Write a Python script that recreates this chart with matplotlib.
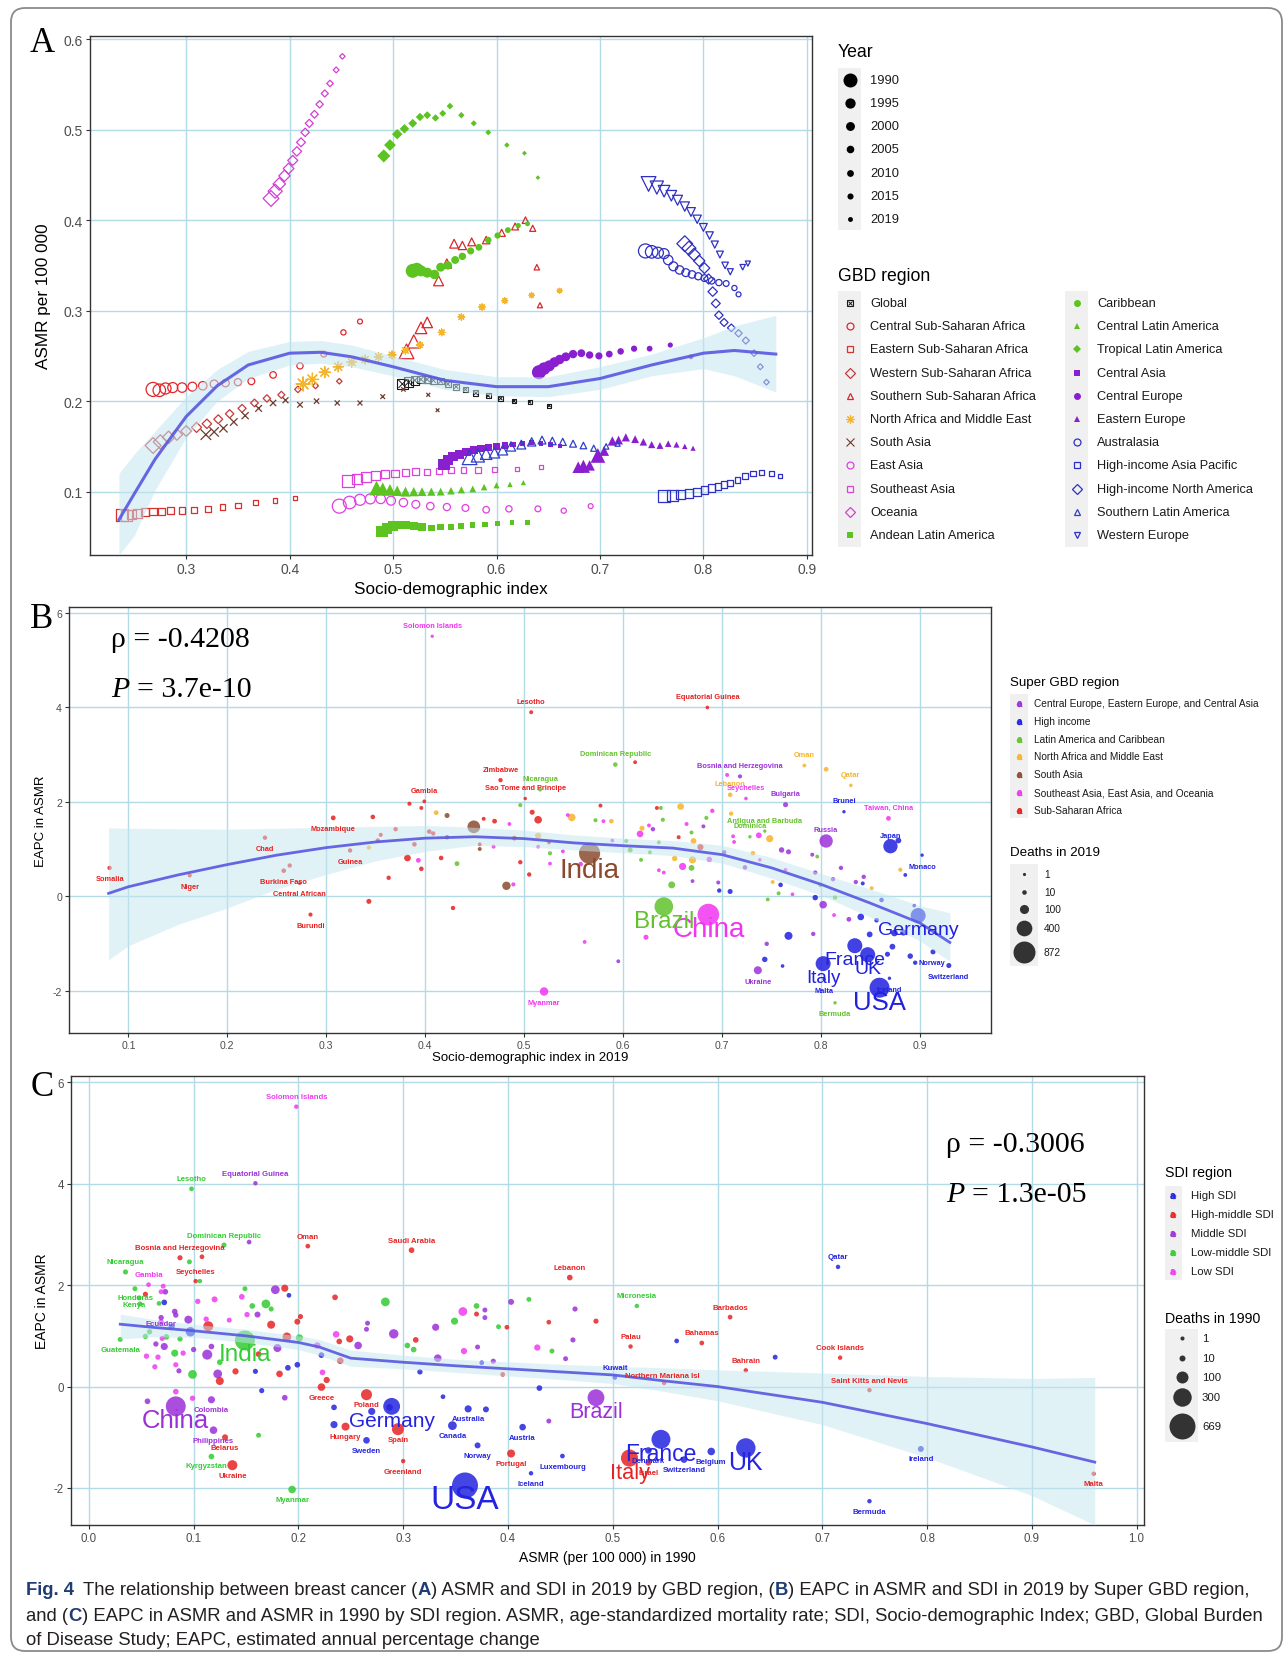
import numpy as np
import matplotlib
matplotlib.use("Agg")
import matplotlib.pyplot as plt
from matplotlib import font_manager as fm
from matplotlib.patches import FancyBboxPatch, Rectangle

W, H = 1287, 1658

installed = {f.name for f in fm.fontManager.ttflist}
SANS = "Liberation Sans" if "Liberation Sans" in installed else "DejaVu Sans"
NARROW = "Liberation Sans Narrow" if "Liberation Sans Narrow" in installed else SANS
SERIF = "Liberation Serif" if "Liberation Serif" in installed else "DejaVu Serif"
plt.rcParams["font.family"] = [SANS, "DejaVu Sans"]
plt.rcParams["axes.unicode_minus"] = False

# ---------------- A: ASMR vs SDI by GBD region, 1990-2019 ----------------
years_a = [1990, 1992, 1994, 1996, 1998, 2000, 2002, 2004, 2006, 2008, 2010, 2012, 2014, 2016, 2018, 2019]

sdi_global = [0.509, 0.515, 0.521, 0.527, 0.533, 0.539, 0.546, 0.553, 0.561, 0.570, 0.580, 0.592, 0.604, 0.617, 0.632, 0.651]
asmr_global = [0.219, 0.221, 0.223, 0.224, 0.224, 0.223, 0.222, 0.219, 0.216, 0.213, 0.209, 0.206, 0.203, 0.200, 0.199, 0.195]
sdi_c_ssa = [0.268, 0.274, 0.280, 0.287, 0.296, 0.306, 0.316, 0.327, 0.338, 0.350, 0.363, 0.384, 0.410, 0.433, 0.452, 0.468]
asmr_c_ssa = [0.213, 0.212, 0.214, 0.215, 0.215, 0.216, 0.217, 0.219, 0.220, 0.221, 0.222, 0.229, 0.239, 0.252, 0.276, 0.288]
sdi_e_ssa = [0.238, 0.242, 0.247, 0.253, 0.260, 0.268, 0.276, 0.285, 0.296, 0.308, 0.321, 0.335, 0.350, 0.367, 0.386, 0.405]
asmr_e_ssa = [0.074, 0.074, 0.075, 0.076, 0.077, 0.078, 0.078, 0.079, 0.079, 0.080, 0.081, 0.083, 0.085, 0.088, 0.090, 0.093]
sdi_w_ssa = [0.268, 0.275, 0.283, 0.291, 0.300, 0.310, 0.320, 0.331, 0.342, 0.354, 0.366, 0.378, 0.392, 0.408, 0.425, 0.448]
asmr_w_ssa = [0.151, 0.155, 0.160, 0.163, 0.167, 0.171, 0.175, 0.180, 0.186, 0.192, 0.198, 0.203, 0.207, 0.213, 0.217, 0.222]
sdi_s_ssa = [0.513, 0.520, 0.527, 0.533, 0.544, 0.552, 0.559, 0.567, 0.576, 0.590, 0.605, 0.618, 0.628, 0.635, 0.639, 0.642]
asmr_s_ssa = [0.255, 0.266, 0.281, 0.287, 0.333, 0.352, 0.374, 0.372, 0.376, 0.378, 0.386, 0.393, 0.400, 0.391, 0.348, 0.306]
sdi_name = [0.413, 0.422, 0.434, 0.447, 0.460, 0.473, 0.486, 0.499, 0.512, 0.526, 0.547, 0.566, 0.586, 0.608, 0.634, 0.661]
asmr_name = [0.219, 0.224, 0.232, 0.238, 0.243, 0.246, 0.249, 0.251, 0.256, 0.262, 0.276, 0.293, 0.304, 0.311, 0.317, 0.322]
sdi_s_asia = [0.319, 0.327, 0.336, 0.346, 0.357, 0.370, 0.384, 0.396, 0.410, 0.426, 0.446, 0.468, 0.490, 0.510, 0.534, 0.543]
asmr_s_asia = [0.163, 0.166, 0.170, 0.177, 0.184, 0.192, 0.198, 0.201, 0.196, 0.200, 0.198, 0.198, 0.205, 0.213, 0.207, 0.190]
sdi_e_asia = [0.448, 0.458, 0.468, 0.478, 0.488, 0.498, 0.510, 0.522, 0.536, 0.552, 0.570, 0.590, 0.612, 0.640, 0.665, 0.691]
asmr_e_asia = [0.084, 0.088, 0.091, 0.092, 0.092, 0.090, 0.088, 0.086, 0.084, 0.083, 0.082, 0.080, 0.081, 0.081, 0.079, 0.084]
sdi_se_asia = [0.456, 0.465, 0.474, 0.483, 0.492, 0.502, 0.512, 0.522, 0.533, 0.544, 0.556, 0.568, 0.582, 0.598, 0.620, 0.643]
asmr_se_asia = [0.112, 0.114, 0.116, 0.118, 0.119, 0.120, 0.121, 0.122, 0.122, 0.123, 0.124, 0.124, 0.124, 0.124, 0.125, 0.127]
sdi_oceania = [0.382, 0.386, 0.390, 0.395, 0.399, 0.403, 0.407, 0.411, 0.415, 0.419, 0.424, 0.429, 0.434, 0.439, 0.445, 0.451]
asmr_oceania = [0.424, 0.432, 0.440, 0.449, 0.457, 0.466, 0.476, 0.486, 0.497, 0.507, 0.517, 0.528, 0.540, 0.551, 0.566, 0.581]
sdi_andean = [0.489, 0.494, 0.500, 0.506, 0.512, 0.520, 0.528, 0.537, 0.546, 0.556, 0.566, 0.577, 0.589, 0.601, 0.615, 0.630]
asmr_andean = [0.056, 0.059, 0.062, 0.063, 0.063, 0.062, 0.061, 0.060, 0.061, 0.061, 0.062, 0.063, 0.064, 0.065, 0.066, 0.066]
sdi_caribbean = [0.519, 0.523, 0.527, 0.533, 0.540, 0.546, 0.553, 0.560, 0.567, 0.575, 0.583, 0.592, 0.601, 0.611, 0.621, 0.630]
asmr_caribbean = [0.344, 0.346, 0.344, 0.342, 0.340, 0.348, 0.350, 0.356, 0.360, 0.366, 0.370, 0.378, 0.383, 0.389, 0.394, 0.396]
sdi_c_latam = [0.484, 0.490, 0.497, 0.504, 0.512, 0.520, 0.528, 0.537, 0.546, 0.556, 0.566, 0.577, 0.588, 0.600, 0.613, 0.626]
asmr_c_latam = [0.104, 0.103, 0.102, 0.101, 0.100, 0.100, 0.100, 0.100, 0.100, 0.101, 0.102, 0.103, 0.105, 0.107, 0.108, 0.110]
sdi_t_latam = [0.491, 0.497, 0.504, 0.511, 0.519, 0.526, 0.533, 0.541, 0.548, 0.555, 0.566, 0.578, 0.592, 0.610, 0.627, 0.640]
asmr_t_latam = [0.471, 0.483, 0.495, 0.501, 0.507, 0.514, 0.516, 0.513, 0.518, 0.526, 0.516, 0.507, 0.497, 0.483, 0.474, 0.447]
sdi_c_asia = [0.549, 0.553, 0.558, 0.564, 0.571, 0.578, 0.585, 0.592, 0.600, 0.608, 0.616, 0.625, 0.634, 0.643, 0.652, 0.661]
asmr_c_asia = [0.130, 0.135, 0.139, 0.141, 0.144, 0.146, 0.148, 0.149, 0.150, 0.151, 0.152, 0.153, 0.154, 0.153, 0.152, 0.150]
sdi_c_europe = [0.641, 0.646, 0.651, 0.656, 0.661, 0.667, 0.674, 0.682, 0.690, 0.699, 0.709, 0.720, 0.733, 0.748, 0.768, 0.788]
asmr_c_europe = [0.232, 0.236, 0.239, 0.243, 0.246, 0.249, 0.252, 0.253, 0.251, 0.250, 0.252, 0.255, 0.258, 0.258, 0.262, 0.249]
sdi_e_europe = [0.698, 0.684, 0.679, 0.690, 0.704, 0.712, 0.718, 0.725, 0.734, 0.742, 0.750, 0.758, 0.766, 0.774, 0.782, 0.790]
asmr_e_europe = [0.140, 0.128, 0.127, 0.129, 0.145, 0.156, 0.157, 0.160, 0.158, 0.155, 0.152, 0.151, 0.153, 0.152, 0.150, 0.148]
sdi_australasia = [0.744, 0.750, 0.756, 0.762, 0.766, 0.771, 0.777, 0.783, 0.789, 0.795, 0.801, 0.808, 0.815, 0.822, 0.830, 0.834]
asmr_australasia = [0.366, 0.365, 0.364, 0.363, 0.356, 0.349, 0.345, 0.342, 0.340, 0.338, 0.336, 0.333, 0.331, 0.330, 0.325, 0.318]
sdi_hi_ap = [0.762, 0.770, 0.778, 0.786, 0.794, 0.801, 0.808, 0.814, 0.820, 0.826, 0.833, 0.840, 0.848, 0.856, 0.866, 0.874]
asmr_hi_ap = [0.095, 0.096, 0.097, 0.098, 0.100, 0.102, 0.104, 0.106, 0.108, 0.110, 0.113, 0.117, 0.120, 0.121, 0.120, 0.117]
sdi_hi_na = [0.782, 0.786, 0.791, 0.796, 0.801, 0.805, 0.809, 0.812, 0.815, 0.820, 0.827, 0.834, 0.841, 0.849, 0.855, 0.861]
asmr_hi_na = [0.374, 0.369, 0.362, 0.355, 0.347, 0.335, 0.321, 0.308, 0.295, 0.287, 0.281, 0.275, 0.267, 0.253, 0.238, 0.221]
sdi_s_latam = [0.574, 0.582, 0.590, 0.598, 0.606, 0.614, 0.624, 0.634, 0.644, 0.654, 0.664, 0.674, 0.684, 0.694, 0.706, 0.717]
asmr_s_latam = [0.138, 0.140, 0.142, 0.143, 0.146, 0.150, 0.152, 0.155, 0.157, 0.156, 0.155, 0.153, 0.151, 0.148, 0.150, 0.153]
sdi_w_europe = [0.747, 0.755, 0.762, 0.769, 0.775, 0.782, 0.788, 0.794, 0.800, 0.806, 0.811, 0.816, 0.821, 0.826, 0.838, 0.843]
asmr_w_europe = [0.440, 0.436, 0.432, 0.427, 0.422, 0.415, 0.409, 0.401, 0.392, 0.383, 0.373, 0.362, 0.350, 0.343, 0.348, 0.352]

gbd_regions = ["Global", "Central Sub-Saharan Africa", "Eastern Sub-Saharan Africa",
               "Western Sub-Saharan Africa", "Southern Sub-Saharan Africa",
               "North Africa and Middle East", "South Asia", "East Asia", "Southeast Asia",
               "Oceania", "Andean Latin America", "Caribbean", "Central Latin America",
               "Tropical Latin America", "Central Asia", "Central Europe", "Eastern Europe",
               "Australasia", "High-income Asia Pacific", "High-income North America",
               "Southern Latin America", "Western Europe"]
region_values = dict(zip(gbd_regions, [
    (sdi_global, asmr_global), (sdi_c_ssa, asmr_c_ssa), (sdi_e_ssa, asmr_e_ssa),
    (sdi_w_ssa, asmr_w_ssa), (sdi_s_ssa, asmr_s_ssa), (sdi_name, asmr_name),
    (sdi_s_asia, asmr_s_asia), (sdi_e_asia, asmr_e_asia), (sdi_se_asia, asmr_se_asia),
    (sdi_oceania, asmr_oceania), (sdi_andean, asmr_andean), (sdi_caribbean, asmr_caribbean),
    (sdi_c_latam, asmr_c_latam), (sdi_t_latam, asmr_t_latam), (sdi_c_asia, asmr_c_asia),
    (sdi_c_europe, asmr_c_europe), (sdi_e_europe, asmr_e_europe),
    (sdi_australasia, asmr_australasia), (sdi_hi_ap, asmr_hi_ap), (sdi_hi_na, asmr_hi_na),
    (sdi_s_latam, asmr_s_latam), (sdi_w_europe, asmr_w_europe)]))

smooth_a_x = [0.235, 0.25, 0.27, 0.30, 0.33, 0.36, 0.40, 0.43, 0.46, 0.50, 0.55, 0.60, 0.65, 0.70, 0.75, 0.80, 0.83, 0.87]
smooth_a_fit = [0.069, 0.098, 0.136, 0.183, 0.217, 0.240, 0.253, 0.254, 0.249, 0.238, 0.223, 0.216, 0.216, 0.225, 0.240, 0.253, 0.256, 0.252]
smooth_a_lo = [0.030, 0.052, 0.102, 0.160, 0.200, 0.225, 0.240, 0.242, 0.238, 0.228, 0.213, 0.206, 0.205, 0.213, 0.228, 0.236, 0.228, 0.210]
smooth_a_hi = [0.120, 0.142, 0.167, 0.205, 0.235, 0.255, 0.266, 0.267, 0.262, 0.250, 0.235, 0.227, 0.227, 0.238, 0.252, 0.270, 0.283, 0.295]

# ---------------- B: EAPC vs SDI 2019 (name, SDI, EAPC, deaths 2019) ----------------
b_ceeca = [
    ("Bosnia and Herzegovina", 0.718, 2.54, 6), ("Bulgaria", 0.764, 1.94, 15),
    ("Russia", 0.805, 1.17, 270), ("Ukraine", 0.736, -1.57, 70),
    ("", 0.595, -1.38, 4), ("", 0.630, 1.42, 8), ("", 0.670, 0.32, 4), ("", 0.681, 1.48, 5),
    ("", 0.696, 0.29, 5), ("", 0.702, 0.93, 8), ("", 0.723, 0.61, 10), ("", 0.745, -1.01, 8),
    ("", 0.760, 0.98, 20), ("", 0.767, 0.94, 15), ("", 0.791, 0.88, 5), ("", 0.794, 0.50, 8),
    ("", 0.802, -0.18, 60), ("", 0.792, -0.80, 8), ("", 0.812, 0.36, 8), ("", 0.820, 0.60, 8),
    ("", 0.828, -0.49, 12), ("", 0.835, 0.30, 8), ("", 0.843, 0.41, 8)]
b_high = [
    ("Brunei", 0.823, 1.79, 2), ("Japan", 0.870, 1.06, 320), ("Monaco", 0.902, 0.87, 2),
    ("Germany", 0.898, -0.41, 360), ("France", 0.834, -1.05, 360), ("UK", 0.847, -1.24, 360),
    ("Italy", 0.802, -1.43, 360), ("USA", 0.859, -1.94, 700), ("Malta", 0.803, -1.76, 2),
    ("Iceland", 0.869, -1.74, 2), ("Norway", 0.895, -1.41, 8), ("Switzerland", 0.929, -1.47, 15),
    ("", 0.697, 0.12, 8), ("", 0.708, 0.10, 15), ("", 0.743, -1.34, 20), ("", 0.759, 0.24, 10),
    ("", 0.761, -1.48, 3), ("", 0.767, -0.84, 70), ("", 0.794, -0.03, 20), ("", 0.840, -0.44, 40),
    ("", 0.842, 0.27, 5), ("", 0.849, -0.81, 25), ("", 0.856, -0.51, 10), ("", 0.861, -0.08, 10),
    ("", 0.867, -1.23, 15), ("", 0.872, -1.07, 25), ("", 0.874, -0.78, 40), ("", 0.883, -0.77, 30),
    ("", 0.878, 1.18, 25), ("", 0.885, 0.45, 4), ("", 0.890, -1.27, 20), ("", 0.894, -0.20, 3),
    ("", 0.913, -1.18, 15)]
b_latam = [
    ("Dominican Republic", 0.592, 2.79, 10), ("Nicaragua", 0.516, 2.26, 5),
    ("Antigua and Barbuda", 0.743, 1.38, 2), ("Dominica", 0.728, 1.26, 2),
    ("Brazil", 0.641, -0.22, 600), ("Bermuda", 0.814, -2.26, 2),
    ("", 0.496, 1.93, 6), ("", 0.432, 0.69, 12), ("", 0.526, 0.91, 6), ("", 0.572, 1.61, 6),
    ("", 0.603, 1.17, 5), ("", 0.607, 0.98, 15), ("", 0.618, 0.77, 5), ("", 0.627, 0.93, 5),
    ("", 0.636, 1.14, 5), ("", 0.638, 1.87, 5), ("", 0.640, 1.62, 6), ("", 0.649, 0.24, 45),
    ("", 0.669, 0.60, 25), ("", 0.669, 1.35, 5), ("", 0.684, 1.66, 6), ("", 0.746, -0.07, 4),
    ("", 0.757, 0.06, 5), ("", 0.796, 0.84, 4), ("", 0.799, 0.23, 3), ("", 0.814, -0.03, 8)]
b_name = [
    ("Oman", 0.783, 2.77, 4), ("Qatar", 0.830, 2.35, 3), ("Lebanon", 0.708, 2.15, 10),
    ("", 0.805, 2.69, 12), ("", 0.411, 1.77, 12), ("", 0.343, 1.03, 8), ("", 0.514, 1.28, 30),
    ("", 0.548, 1.67, 60), ("", 0.588, 1.59, 10), ("", 0.619, 1.44, 15), ("", 0.658, 1.90, 40),
    ("", 0.652, 0.80, 20), ("", 0.670, 0.77, 50), ("", 0.671, 1.17, 25), ("", 0.709, 1.75, 8),
    ("", 0.731, 0.91, 10), ("", 0.748, 1.22, 50), ("", 0.751, 0.30, 5), ("", 0.851, 0.17, 5),
    ("", 0.880, 0.56, 6)]
b_south_asia = [
    ("India", 0.566, 0.91, 800), ("", 0.449, 1.47, 240), ("", 0.422, 1.71, 15),
    ("", 0.422, 1.25, 10), ("", 0.482, 0.22, 80), ("", 0.455, 1.00, 5)]
b_seao = [
    ("Solomon Islands", 0.407, 5.51, 2), ("Myanmar", 0.520, -2.02, 80), ("China", 0.686, -0.39, 840),
    ("Seychelles", 0.724, 2.07, 3), ("Taiwan, China", 0.868, 1.65, 12),
    ("", 0.393, 0.76, 12), ("", 0.469, 1.05, 5), ("", 0.485, 1.53, 4), ("", 0.489, 0.25, 6),
    ("", 0.514, 1.05, 4), ("", 0.526, 0.69, 4), ("", 0.539, 0.95, 4), ("", 0.544, 1.72, 4),
    ("", 0.561, -0.97, 4), ("", 0.557, 0.68, 10), ("", 0.580, 1.59, 4), ("", 0.589, 1.18, 3),
    ("", 0.617, 1.32, 40), ("", 0.623, -0.87, 15), ("", 0.626, 1.50, 4), ("", 0.636, 0.55, 4),
    ("", 0.641, 0.50, 4), ("", 0.660, 0.63, 50), ("", 0.664, 1.53, 5), ("", 0.687, 0.78, 20),
    ("", 0.690, 1.81, 8), ("", 0.705, 2.57, 5), ("", 0.711, 1.27, 4), ("", 0.712, 1.15, 4),
    ("", 0.737, 1.29, 25), ("", 0.738, 0.77, 3), ("", 0.764, 0.56, 3), ("", 0.771, 0.04, 3),
    ("", 0.813, -0.40, 4)]
b_ssa = [
    ("Lesotho", 0.507, 3.90, 5), ("Equatorial Guinea", 0.685, 4.00, 3), ("Zimbabwe", 0.476, 2.46, 8),
    ("Sao Tome and Principe", 0.501, 2.07, 2), ("Gambia", 0.399, 2.01, 4),
    ("Mozambique", 0.307, 1.66, 12), ("Chad", 0.238, 1.24, 8), ("Somalia", 0.081, 0.60, 8),
    ("Niger", 0.162, 0.44, 6), ("Burkina Faso", 0.257, 0.54, 10), ("Central African", 0.273, 0.28, 4),
    ("Guinea", 0.324, 0.97, 8), ("Burundi", 0.284, -0.39, 6),
    ("", 0.612, 2.84, 4), ("", 0.384, 1.96, 6), ("", 0.396, 1.87, 5), ("", 0.263, 0.65, 8),
    ("", 0.347, 1.68, 10), ("", 0.370, 1.42, 8), ("", 0.355, 1.30, 6), ("", 0.352, 1.18, 8),
    ("", 0.404, 1.37, 10), ("", 0.408, 1.33, 8), ("", 0.389, 1.10, 10), ("", 0.382, 0.81, 40),
    ("", 0.396, 0.58, 10), ("", 0.416, 0.81, 10), ("", 0.363, 0.39, 8), ("", 0.343, -0.11, 15),
    ("", 0.428, -0.25, 8), ("", 0.455, 1.10, 4), ("", 0.459, 1.64, 5), ("", 0.470, 1.59, 12),
    ("", 0.490, 1.23, 12), ("", 0.508, 1.78, 15), ("", 0.514, 1.62, 60), ("", 0.525, 1.14, 4),
    ("", 0.496, 0.72, 8), ("", 0.505, 0.46, 8), ("", 0.577, 1.92, 5), ("", 0.634, 1.87, 5),
    ("", 0.656, 1.25, 5), ("", 0.678, 1.04, 30)]
b_super_regions = ["Central Europe, Eastern Europe, and Central Asia", "High income",
                   "Latin America and Caribbean", "North Africa and Middle East", "South Asia",
                   "Southeast Asia, East Asia, and Oceania", "Sub-Saharan Africa"]
b_death_keys = [1, 10, 100, 400, 872]
b_rho, b_p = "-0.4208", "3.7e-10"

smooth_b_x = [0.08, 0.10, 0.15, 0.20, 0.25, 0.30, 0.35, 0.40, 0.45, 0.50, 0.55, 0.60, 0.65, 0.70, 0.75, 0.80, 0.85, 0.90, 0.93]
smooth_b_fit = [0.06, 0.20, 0.45, 0.67, 0.87, 1.03, 1.15, 1.23, 1.26, 1.22, 1.13, 1.07, 1.02, 0.88, 0.60, 0.25, -0.15, -0.57, -0.98]
smooth_b_lo = [-1.35, -1.05, -0.60, -0.25, 0.15, 0.46, 0.75, 0.95, 1.08, 1.05, 0.98, 0.92, 0.86, 0.70, 0.38, 0.02, -0.45, -0.95, -1.38]
smooth_b_hi = [1.45, 1.44, 1.43, 1.42, 1.44, 1.46, 1.48, 1.50, 1.46, 1.40, 1.30, 1.23, 1.18, 1.08, 0.82, 0.48, 0.15, -0.20, -0.35]

# ---------------- C: EAPC vs ASMR 1990 (name, ASMR 1990, EAPC, deaths 1990) ----------------
c_high = [
    ("Qatar", 0.715, 2.36, 2), ("Kuwait", 0.502, 0.18, 3), ("Germany", 0.289, -0.39, 240),
    ("Sweden", 0.265, -1.06, 15), ("Canada", 0.347, -0.77, 40), ("Australia", 0.362, -0.44, 20),
    ("Austria", 0.414, -0.80, 15), ("Norway", 0.371, -1.16, 10), ("Iceland", 0.422, -1.71, 2),
    ("USA", 0.359, -1.95, 669), ("Luxembourg", 0.452, -1.37, 3), ("France", 0.546, -1.04, 320),
    ("UK", 0.627, -1.21, 340), ("Denmark", 0.534, -1.26, 15), ("Switzerland", 0.568, -1.44, 15),
    ("Belgium", 0.594, -1.28, 25), ("Ireland", 0.794, -1.23, 10), ("Bermuda", 0.745, -2.26, 2),
    ("", 0.072, 1.66, 8), ("", 0.079, 1.18, 12), ("", 0.097, 1.08, 50), ("", 0.191, 1.80, 3),
    ("", 0.159, 0.30, 5), ("", 0.190, 0.37, 8), ("", 0.199, 0.43, 8), ("", 0.165, -0.08, 5),
    ("", 0.222, 0.62, 8), ("", 0.316, 0.29, 6), ("", 0.375, 0.47, 3), ("", 0.430, -0.03, 8),
    ("", 0.338, -0.20, 3), ("", 0.379, -0.45, 10), ("", 0.270, -0.49, 20), ("", 0.287, -0.41, 15),
    ("", 0.234, -0.41, 8), ("", 0.234, -0.75, 20), ("", 0.561, 0.90, 3), ("", 0.655, 0.58, 4)]
c_high_middle = [
    ("Bosnia and Herzegovina", 0.087, 2.54, 5), ("Oman", 0.209, 2.77, 3),
    ("Saudi Arabia", 0.308, 2.69, 8), ("Seychelles", 0.102, 2.08, 2), ("Belarus", 0.130, -1.00, 10),
    ("Ukraine", 0.137, -1.55, 60), ("Greece", 0.222, -0.01, 25), ("Poland", 0.265, -0.16, 80),
    ("Hungary", 0.245, -0.79, 30), ("Spain", 0.295, -0.84, 100), ("Greenland", 0.300, -1.47, 2),
    ("Portugal", 0.403, -1.32, 30), ("Lebanon", 0.459, 2.15, 8), ("Barbados", 0.612, 1.37, 3),
    ("Palau", 0.517, 0.79, 2), ("Bahamas", 0.585, 0.86, 3), ("Bahrain", 0.627, 0.32, 2),
    ("Cook Islands", 0.717, 0.57, 2), ("Northern Mariana Isl", 0.549, 0.07, 2),
    ("Saint Kitts and Nevis", 0.745, -0.07, 2), ("Italy", 0.516, -1.41, 250),
    ("Israel", 0.534, -1.50, 10), ("Malta", 0.959, -1.72, 2),
    ("", 0.108, 2.56, 3), ("", 0.054, 1.82, 5), ("", 0.114, 1.19, 60), ("", 0.174, 1.22, 30),
    ("", 0.187, 1.94, 20), ("", 0.189, 0.98, 40), ("", 0.202, 1.38, 5), ("", 0.199, 1.28, 10),
    ("", 0.239, 0.89, 8), ("", 0.249, 0.94, 20), ("", 0.240, 0.51, 15), ("", 0.235, 1.76, 8),
    ("", 0.312, 0.92, 8), ("", 0.370, 1.43, 4), ("", 0.395, 0.24, 3), ("", 0.399, 1.17, 3),
    ("", 0.439, 1.27, 3), ("", 0.125, 0.11, 30), ("", 0.140, 0.30, 12), ("", 0.182, 0.25, 15),
    ("", 0.227, 0.13, 12), ("", 0.162, 0.64, 8), ("", 0.484, 1.29, 5)]
c_middle = [
    ("Equatorial Guinea", 0.159, 4.01, 2), ("China", 0.083, -0.39, 360), ("Colombia", 0.117, -0.26, 20),
    ("Philippines", 0.119, -0.86, 25), ("Ecuador", 0.069, 1.36, 6), ("Brazil", 0.484, -0.22, 240),
    ("", 0.153, 2.85, 3), ("", 0.073, 1.87, 8), ("", 0.082, 1.48, 8), ("", 0.083, 1.41, 6),
    ("", 0.095, 1.32, 30), ("", 0.161, 1.42, 10), ("", 0.178, 1.91, 40), ("", 0.180, 0.76, 30),
    ("", 0.257, 0.81, 25), ("", 0.266, 1.25, 4), ("", 0.265, 1.13, 4), ("", 0.291, 1.04, 50),
    ("", 0.331, 1.17, 20), ("", 0.333, 0.56, 25), ("", 0.378, 1.51, 4), ("", 0.378, 1.36, 4),
    ("", 0.371, 0.78, 4), ("", 0.386, 0.50, 5), ("", 0.403, 1.67, 10), ("", 0.439, -0.68, 4),
    ("", 0.100, 0.73, 6), ("", 0.113, 0.63, 60), ("", 0.117, 0.79, 8), ("", 0.072, 0.79, 20),
    ("", 0.064, 0.84, 6), ("", 0.086, 0.31, 5), ("", 0.123, 0.25, 40), ("", 0.187, -0.22, 8),
    ("", 0.056, -0.29, 8), ("", 0.464, 1.53, 5), ("", 0.462, 0.92, 5), ("", 0.455, 0.55, 4)]
c_low_middle = [
    ("Lesotho", 0.098, 3.90, 3), ("Dominican Republic", 0.129, 2.79, 5), ("Nicaragua", 0.035, 2.26, 5),
    ("Honduras", 0.048, 1.75, 4), ("Kenya", 0.049, 1.63, 4), ("Guatemala", 0.030, 0.93, 4),
    ("India", 0.149, 0.91, 360), ("Kyrgyzstan", 0.117, -1.38, 8), ("Myanmar", 0.194, -2.03, 25),
    ("Micronesia", 0.523, 1.59, 2),
    ("", 0.106, 2.08, 2), ("", 0.044, 1.93, 4), ("", 0.096, 2.46, 4), ("", 0.067, 1.64, 3),
    ("", 0.149, 1.93, 4), ("", 0.156, 1.59, 8), ("", 0.169, 1.63, 40), ("", 0.174, 1.53, 5),
    ("", 0.201, 0.96, 20), ("", 0.283, 1.67, 40), ("", 0.304, 0.81, 8), ("", 0.310, 0.73, 8),
    ("", 0.349, 1.29, 20), ("", 0.370, 1.59, 8), ("", 0.391, 1.18, 4), ("", 0.420, 1.72, 4),
    ("", 0.442, 0.70, 4), ("", 0.099, 0.24, 40), ("", 0.082, 0.66, 20), ("", 0.074, 0.98, 8),
    ("", 0.087, 0.94, 6), ("", 0.125, 0.48, 8), ("", 0.162, -0.96, 4), ("", 0.054, 0.99, 6),
    ("", 0.058, 1.08, 6)]
c_low = [
    ("Solomon Islands", 0.198, 5.52, 2), ("Gambia", 0.057, 2.01, 3),
    ("", 0.069, 1.87, 4), ("", 0.071, 1.98, 4), ("", 0.069, 1.27, 8), ("", 0.112, 1.33, 6),
    ("", 0.104, 1.68, 6), ("", 0.120, 1.72, 10), ("", 0.134, 1.31, 4), ("", 0.146, 1.77, 8),
    ("", 0.151, 1.42, 6), ("", 0.218, 0.81, 15), ("", 0.236, 1.03, 15), ("", 0.357, 1.48, 40),
    ("", 0.358, 0.70, 12), ("", 0.428, 0.77, 12), ("", 0.070, 0.95, 5), ("", 0.090, 0.66, 6),
    ("", 0.055, 0.60, 6), ("", 0.066, 0.58, 6), ("", 0.063, 0.39, 5), ("", 0.083, 0.43, 5),
    ("", 0.223, 0.28, 8), ("", 0.099, -0.23, 6), ("", 0.083, -0.10, 8)]
c_sdi_regions = ["High SDI", "High-middle SDI", "Middle SDI", "Low-middle SDI", "Low SDI"]
c_death_keys = [1, 10, 100, 300, 669]
c_rho, c_p = "-0.3006", "1.3e-05"

smooth_c_x = [0.03, 0.06, 0.10, 0.15, 0.20, 0.22, 0.25, 0.30, 0.35, 0.40, 0.45, 0.50, 0.55, 0.60, 0.70, 0.80, 0.90, 0.96]
smooth_c_fit = [1.23, 1.17, 1.10, 1.00, 0.87, 0.78, 0.56, 0.48, 0.41, 0.35, 0.29, 0.23, 0.11, 0.00, -0.31, -0.73, -1.19, -1.49]
smooth_c_lo = [0.94, 0.98, 0.97, 0.87, 0.73, 0.62, 0.40, 0.35, 0.28, 0.21, 0.14, 0.06, -0.10, -0.28, -0.75, -1.40, -2.15, -2.73]
smooth_c_hi = [1.43, 1.33, 1.23, 1.13, 1.00, 0.93, 0.72, 0.62, 0.54, 0.49, 0.44, 0.40, 0.37, 0.33, 0.27, 0.20, 0.16, 0.18]

# ---------------- styles ----------------
GRID = "#b3dbe6"
BAND = "#c4e6f0"
LINE = "#5858e0"
REGION_STYLE = {
    "Global": ("s", "#1a1a1a", "boxx"),
    "Central Sub-Saharan Africa": ("o", "#e3262b", "open"),
    "Eastern Sub-Saharan Africa": ("s", "#d9302c", "open"),
    "Western Sub-Saharan Africa": ("D", "#c63a3a", "open"),
    "Southern Sub-Saharan Africa": ("^", "#d8282b", "open"),
    "North Africa and Middle East": ((8, 2, 0), "#f4b42c", "line"),
    "South Asia": ("x", "#6e3b2c", "line"),
    "East Asia": ("o", "#e03ee3", "open"),
    "Southeast Asia": ("s", "#dc43dc", "open"),
    "Oceania": ("D", "#d53ed5", "open"),
    "Andean Latin America": ("s", "#5cc320", "fill"),
    "Caribbean": ("o", "#5cc320", "fill"),
    "Central Latin America": ("^", "#5cc320", "fill"),
    "Tropical Latin America": ("D", "#5cc320", "small"),
    "Central Asia": ("s", "#8a1fd0", "fill"),
    "Central Europe": ("o", "#8a1fd0", "fill"),
    "Eastern Europe": ("^", "#8a1fd0", "fill"),
    "Australasia": ("o", "#2f2fc4", "open"),
    "High-income Asia Pacific": ("s", "#2f2fc4", "open"),
    "High-income North America": ("D", "#2f2fc4", "open"),
    "Southern Latin America": ("^", "#2f3fc8", "open"),
    "Western Europe": ("v", "#2f2fc4", "open"),
}
MARKER_SCALE = {"o": 1.0, "s": 0.85, "D": 0.8, "^": 1.05, "v": 1.05, "x": 0.75}
YEAR_KEYS = [1990, 1995, 2000, 2005, 2010, 2015, 2019]
YEAR_DIAM = [14.0, 10.3, 8.9, 7.6, 6.8, 6.1, 4.9]
B_COLORS = ["#9b30d9", "#2020e0", "#62c22b", "#f6b42a", "#8b4a2e", "#f035f0", "#e81e1e"]
C_COLORS = ["#2424e0", "#e82323", "#9b30d8", "#33cc33", "#f03cf0"]


def px_rect(l, t, r, b):
    return [l / W, 1 - b / H, (r - l) / W, (b - t) / H]


def style_axes(ax, xlim, ylim, xticks, yticks, xfmt, fs):
    ax.set_xlim(*xlim)
    ax.set_ylim(*ylim)
    ax.set_xticks(xticks)
    ax.set_xticklabels([xfmt.format(v) for v in xticks])
    ax.set_yticks(yticks)
    ax.grid(True, color=GRID, lw=1.0)
    ax.set_axisbelow(True)
    for sp in ax.spines.values():
        sp.set_color("#333333")
        sp.set_linewidth(1.0)
    ax.tick_params(length=3, width=0.8, color="#333333", labelsize=fs, labelcolor="#4d4d4d", pad=2)


def set_labels(ax, xl, yl, fs, xpos, ypos):
    ax.set_xlabel(xl, fontsize=fs)
    ax.set_ylabel(yl, fontsize=fs)
    ax.xaxis.set_label_coords(0.5, xpos)
    ax.yaxis.set_label_coords(ypos, 0.5)
    ax.xaxis.label.set_va("center")
    ax.yaxis.label.set_va("center")


fig = plt.figure(figsize=(W / 100, H / 100), dpi=100)
fig.patch.set_facecolor("white")

# ---------------- panel A ----------------
axA = fig.add_axes(px_rect(90, 37, 812, 556))
style_axes(axA, (0.207, 0.905), (0.030, 0.6035), [0.3, 0.4, 0.5, 0.6, 0.7, 0.8, 0.9],
           [0.1, 0.2, 0.3, 0.4, 0.5, 0.6], "{:.1f}", 10)
axA.set_yticklabels(["0.1", "0.2", "0.3", "0.4", "0.5", "0.6"])
set_labels(axA, "Socio-demographic index", "ASMR per 100 000", 12.3, -0.064, -0.065)

diam_year = np.interp(years_a, YEAR_KEYS, YEAR_DIAM)
axA.fill_between(smooth_a_x, smooth_a_lo, smooth_a_hi, color=BAND, alpha=0.55, lw=0, zorder=4)
for reg in gbd_regions:
    xs, ys = region_values[reg]
    mk, col, kind = REGION_STYLE[reg]
    scale = MARKER_SCALE.get(mk, 1.0) if isinstance(mk, str) else 1.0
    s = (diam_year * scale * 0.72) ** 2
    if kind == "open":
        axA.scatter(xs, ys, s=s, marker=mk, facecolors="none", edgecolors=col, linewidths=0.9, zorder=3)
    elif kind == "fill":
        axA.scatter(xs, ys, s=s, marker=mk, color=col, linewidths=0, zorder=3)
    elif kind == "small":
        axA.scatter(xs, ys, s=s * 0.7, marker=mk, color=col, linewidths=0, zorder=3)
    elif kind == "line":
        axA.scatter(xs, ys, s=s, marker=mk, color=col, linewidths=0.9, zorder=3)
    else:
        axA.scatter(xs, ys, s=s * 0.8, marker="s", facecolors="none", edgecolors=col, linewidths=0.8, zorder=3)
        axA.scatter(xs, ys, s=s * 0.45, marker="x", color=col, linewidths=0.7, zorder=3)
axA.plot(smooth_a_x, smooth_a_fit, color=LINE, lw=2.2, alpha=0.9, zorder=5)


# ---------------- B and C ----------------
def draw_countries(ax, groups, colors, diam, big, below, shift, small_fs, big_dy, small_dy):
    rows = []
    for grp, col in zip(groups, colors):
        for name, x, y, d in grp:
            rows.append((name, x, y, d, col))
    rows.sort(key=lambda r: -r[3])
    ax.scatter([r[1] for r in rows], [r[2] for r in rows],
               s=[(diam(r[3]) * 0.72) ** 2 for r in rows], c=[r[4] for r in rows],
               alpha=0.85, linewidths=0, zorder=3)
    for name, x, y, d, col in rows:
        if not name:
            continue
        if name in big:
            fs, dx, dy, wt = big[name], 0, -big_dy, "normal"
        else:
            fs, dx, dy, wt = small_fs, 0, (-small_dy if name in below else small_dy), "bold"
        if name in shift:
            dx, dy = shift[name]
        ax.annotate(name, (x, y), xytext=(dx, dy), textcoords="offset pixels", ha="center",
                    va="center", fontsize=fs, color=col, fontweight=wt, zorder=7)


def diam_b(d):
    return 2.5 + 0.66 * np.sqrt(d)


def diam_c(d):
    return 3.2 + 0.88 * np.sqrt(d)


axB = fig.add_axes(px_rect(69, 608, 991, 1034))
style_axes(axB, (0.040, 0.9716), (-2.9, 6.13), [0.1, 0.2, 0.3, 0.4, 0.5, 0.6, 0.7, 0.8, 0.9],
           [-2, 0, 2, 4, 6], "{:.1f}", 7.6)
set_labels(axB, "Socio-demographic index in 2019", "EAPC in ASMR", 9.5, -0.056, -0.03)
axB.fill_between(smooth_b_x, smooth_b_lo, smooth_b_hi, color=BAND, alpha=0.5, lw=0, zorder=4)
axB.plot(smooth_b_x, smooth_b_fit, color=LINE, lw=2.0, alpha=0.9, zorder=5)
B_BIG = {"India": 20, "China": 20, "USA": 18.5, "Brazil": 17.5, "Germany": 14, "France": 14,
         "UK": 14, "Italy": 13.5}
B_BELOW = {"Mozambique", "Chad", "Somalia", "Niger", "Burkina Faso", "Central African", "Guinea",
           "Burundi", "Myanmar", "Monaco", "Malta", "Iceland", "Switzerland", "Ukraine", "Bermuda"}
B_SHIFT = {"Norway": (17, 0), "India": (0, -17)}
draw_countries(axB, [b_ceeca, b_high, b_latam, b_name, b_south_asia, b_seao, b_ssa], B_COLORS,
               diam_b, B_BIG, B_BELOW, B_SHIFT, 5.3, 14, 11)

axC = fig.add_axes(px_rect(71, 1077, 1144, 1526))
style_axes(axC, (-0.017, 1.007), (-2.73, 6.125), [0.0, 0.1, 0.2, 0.3, 0.4, 0.5, 0.6, 0.7, 0.8, 0.9, 1.0],
           [-2, 0, 2, 4, 6], "{:.1f}", 8.3)
set_labels(axC, "ASMR (per 100 000) in 1990", "EAPC in ASMR", 10, -0.071, -0.027)
axC.fill_between(smooth_c_x, smooth_c_lo, smooth_c_hi, color=BAND, alpha=0.5, lw=0, zorder=4)
axC.plot(smooth_c_x, smooth_c_fit, color=LINE, lw=2.0, alpha=0.9, zorder=5)
C_BIG = {"USA": 24, "China": 18.5, "India": 17.5, "Germany": 15, "Brazil": 15.5, "France": 16.5,
         "UK": 18, "Italy": 15.7}
C_BELOW = {"Guatemala", "Colombia", "Philippines", "Belarus", "Ukraine", "Myanmar", "Greece",
           "Poland", "Hungary", "Spain", "Sweden", "Greenland", "Canada", "Australia", "Austria",
           "Norway", "Portugal", "Iceland", "Luxembourg", "Denmark", "Israel", "Switzerland",
           "Belgium", "Ireland", "Malta", "Bermuda"}
C_SHIFT = {"Honduras": (-4, 0), "Kenya": (-6, -1), "Ecuador": (0, -6), "Kyrgyzstan": (-5, -9),
           "Northern Mariana Isl": (-2, 8)}
draw_countries(axC, [c_high, c_high_middle, c_middle, c_low_middle, c_low], C_COLORS,
               diam_c, C_BIG, C_BELOW, C_SHIFT, 5.6, 14, 10)

# ---------------- overlay: legends, letters, stats, caption ----------------
ov = fig.add_axes([0, 0, 1, 1])
ov.set_xlim(0, W)
ov.set_ylim(H, 0)
ov.axis("off")
ov.patch.set_visible(False)
renderer = fig.canvas.get_renderer()

ov.add_patch(FancyBboxPatch((11, 9), 1271, 1643, boxstyle="round,pad=0,rounding_size=14",
                            ec="#8a8a8a", fc="none", lw=1.3))


def key_bg(x0, y0, x1, y1):
    ov.add_patch(Rectangle((x0, y0), x1 - x0, y1 - y0, fc="#f0f0f0", ec="none"))


# legend A
ov.text(838, 52, "Year", fontsize=12.7, va="center", ha="left")
key_bg(838, 69, 861, 231)
for i, yr in enumerate(YEAR_KEYS):
    y = 80.7 + 23.2 * i
    ov.plot(849.5, y, "o", ms=YEAR_DIAM[i] * 0.72, color="black", mew=0)
    ov.text(870, y, str(yr), fontsize=9.3, va="center", ha="left", color="#1a1a1a")
ov.text(838, 276, "GBD region", fontsize=12.7, va="center", ha="left")
key_bg(838, 292, 861, 548)
key_bg(1065, 292, 1088, 548)
for i, reg in enumerate(gbd_regions):
    col_i, row = divmod(i, 11)
    y = 304 + 23.2 * row
    mx = 849.5 if col_i == 0 else 1077
    tx = 870 if col_i == 0 else 1097
    mk, col, kind = REGION_STYLE[reg]
    ms = 5.0
    if kind == "open":
        ov.plot(mx, y, marker=mk, ms=ms, mfc="none", mec=col, mew=0.9)
    elif kind in ("fill", "small"):
        ov.plot(mx, y, marker=mk, ms=ms if kind == "fill" else 3.6, color=col, mew=0)
    elif kind == "line":
        ov.plot(mx, y, marker=mk, ms=ms + 1, color=col, mew=0.8)
    else:
        ov.plot(mx, y, marker="s", ms=ms, mfc="none", mec=col, mew=0.8)
        ov.plot(mx, y, marker="x", ms=ms * 0.7, color=col, mew=0.7)
    ov.text(tx, y, reg, fontsize=9.2, va="center", ha="left", color="#1a1a1a")

# legend B
ov.text(1010, 683, "Super GBD region", fontsize=9.6, va="center", ha="left")
key_bg(1010, 695, 1028, 819)
for i, (lab, col) in enumerate(zip(b_super_regions, B_COLORS)):
    y = 704 + 17.8 * i
    ov.plot(1019, y + 1, "o", ms=4, color=col, mew=0, alpha=0.8)
    ov.text(1019, y, "a", fontsize=7, fontweight="bold", color=col, ha="center", va="center")
    ov.text(1034, y, lab, fontsize=7.3, va="center", ha="left", color="#1a1a1a")
ov.text(1010, 853, "Deaths in 2019", fontsize=9.6, va="center", ha="left")
key_bg(1010, 865, 1038, 967)
for d, y in zip(b_death_keys, [875, 893, 910, 929, 953]):
    ov.plot(1023.5, y, "o", ms=diam_b(d) * 0.72, color="#333333", mew=0)
    ov.text(1044, y, str(d), fontsize=7.3, va="center", ha="left", color="#1a1a1a")

# legend C
ov.text(1165, 1173, "SDI region", fontsize=10.2, va="center", ha="left")
key_bg(1165, 1187, 1182, 1281)
for i, (lab, col) in enumerate(zip(c_sdi_regions, C_COLORS)):
    y = 1196 + 19 * i
    ov.plot(1173, y + 1, "o", ms=4, color=col, mew=0, alpha=0.8)
    ov.text(1173, y, "a", fontsize=7.5, fontweight="bold", color=col, ha="center", va="center")
    ov.text(1191, y, lab, fontsize=8.2, va="center", ha="left", color="#1a1a1a")
ov.text(1165, 1319, "Deaths in 1990", fontsize=10.2, va="center", ha="left")
key_bg(1165, 1330, 1198, 1443)
for d, y in zip(c_death_keys, [1339, 1359, 1378, 1398, 1427]):
    ov.plot(1181.5, y, "o", ms=diam_c(d) * 0.72, color="#333333", mew=0)
    ov.text(1202, y, str(d), fontsize=8.2, va="center", ha="left", color="#1a1a1a")

# panel letters
for lab, y in (("A", 43), ("B", 619), ("C", 1087)):
    ov.text(42, y, lab, fontsize=25, family=SERIF, ha="center", va="center")


def runs(x, y, parts, fs, family):
    for txt, weight, style, col in parts:
        if txt == " ":
            x += fs * 0.35
            continue
        t = ov.text(x, y, txt, fontsize=fs, fontweight=weight, fontstyle=style, color=col,
                    family=family, ha="left", va="center")
        x += t.get_window_extent(renderer=renderer).width
    return x


def stats(x, y, rho, p):
    ov.text(x, y, "\u03c1 = " + rho, fontsize=21.5, family=SERIF, ha="left", va="center")
    runs(x, y + 50, [("P", "normal", "italic", "black"), (" ", "", "", ""),
                     ("= " + p, "normal", "normal", "black")], 21.5, SERIF)


stats(111, 640, b_rho, b_p)
stats(946, 1145, c_rho, c_p)

# caption
DARK = "#1f3d73"
TXT = "#231f20"
cap_lines = [
    [("Fig. 4", "bold", "normal", DARK), (" ", "", "", ""), (" ", "", "", ""),
     ("The relationship between breast cancer (", "normal", "normal", TXT), ("A", "bold", "normal", DARK),
     (") ASMR and SDI in 2019 by GBD region, (", "normal", "normal", TXT), ("B", "bold", "normal", DARK),
     (") EAPC in ASMR and SDI in 2019 by Super GBD region,", "normal", "normal", TXT)],
    [("and (", "normal", "normal", TXT), ("C", "bold", "normal", DARK),
     (") EAPC in ASMR and ASMR in 1990 by SDI region. ASMR, age-standardized mortality rate; SDI, "
      "Socio-demographic Index; GBD, Global Burden", "normal", "normal", TXT)],
    [("of Disease Study; EAPC, estimated annual percentage change", "normal", "normal", TXT)],
]
n_before = len(ov.texts)
w0 = runs(0, -100, cap_lines[0], 10, NARROW)
for t in ov.texts[n_before:]:
    t.remove()
cap_fs = 10 * 1227 / w0
for line, y in zip(cap_lines, [1591, 1617, 1641]):
    runs(26, y, line, cap_fs, NARROW)

fig.savefig("out.png", dpi=100, facecolor="white")
